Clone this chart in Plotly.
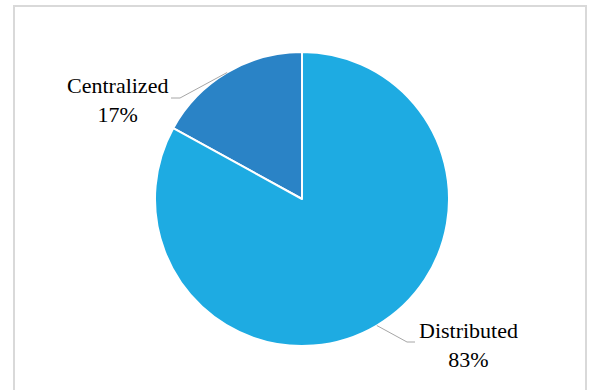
import math
import plotly.graph_objects as go

# Share of deployment architectures
categories = ["Centralized", "Distributed"]
shares = [17, 83]
colors = ["#2A83C6", "#1EABE2"]

W, H = 590, 390
CX, CY, R = 302, 199, 147          # pie centre and radius in pixels

def px(x):
    return x / W

def py(y):
    return 1 - y / H

total = sum(shares)

# First slice ends at 12 o'clock, so it sits to the left of the top
fig = go.Figure(go.Pie(
    labels=categories,
    values=shares,
    sort=False,
    direction="clockwise",
    rotation=-360 * shares[0] / total,
    textinfo="none",
    hoverinfo="label+percent",
    marker=dict(colors=colors, line=dict(color="white", width=2)),
    domain=dict(x=[px(CX - R), px(CX + R)], y=[py(CY + R), py(CY - R)]),
    showlegend=False,
))

# Label placement: elbow of the leader line, end of its horizontal run,
# and centre of the two-line text block (pixels)
label_layout = [
    dict(elbow=(180, 98), end=(171, 98), text=(117, 100)),
    dict(elbow=(407, 342), end=(415, 342), text=(468, 345)),
]

start = 0.0
shapes = []
annotations = []
for name, val, lay in zip(categories, shares, label_layout):
    frac = val / total
    mid = (start + frac / 2) * 2 * math.pi   # counterclockwise from 12 o'clock
    start += frac
    ex = CX - R * math.sin(mid)
    ey = CY - R * math.cos(mid)
    (bx, by), (fx, fy) = lay["elbow"], lay["end"]
    shapes.append(dict(
        type="path", xref="paper", yref="paper",
        path=f"M {px(ex)},{py(ey)} L {px(bx)},{py(by)} L {px(fx)},{py(fy)}",
        line=dict(color="#A6A6A6", width=1),
    ))
    tx, ty = lay["text"]
    pct = round(100 * val / total)
    annotations.append(dict(
        x=px(tx), y=py(ty), xref="paper", yref="paper",
        text=f"{name}<br>{pct}%", showarrow=False,
        xanchor="center", yanchor="middle", align="center",
        font=dict(family="Liberation Serif", size=22, color="#000000"),
    ))

# Chart frame
shapes.append(dict(
    type="rect", xref="paper", yref="paper",
    x0=px(14), x1=px(586), y0=-0.05, y1=py(6),
    line=dict(color="#D9D9D9", width=2), fillcolor="rgba(0,0,0,0)",
))

fig.update_layout(
    width=W, height=H,
    margin=dict(l=0, r=0, t=0, b=0),
    paper_bgcolor="white",
    plot_bgcolor="white",
    shapes=shapes,
    annotations=annotations,
)

fig.write_html("out.html")
